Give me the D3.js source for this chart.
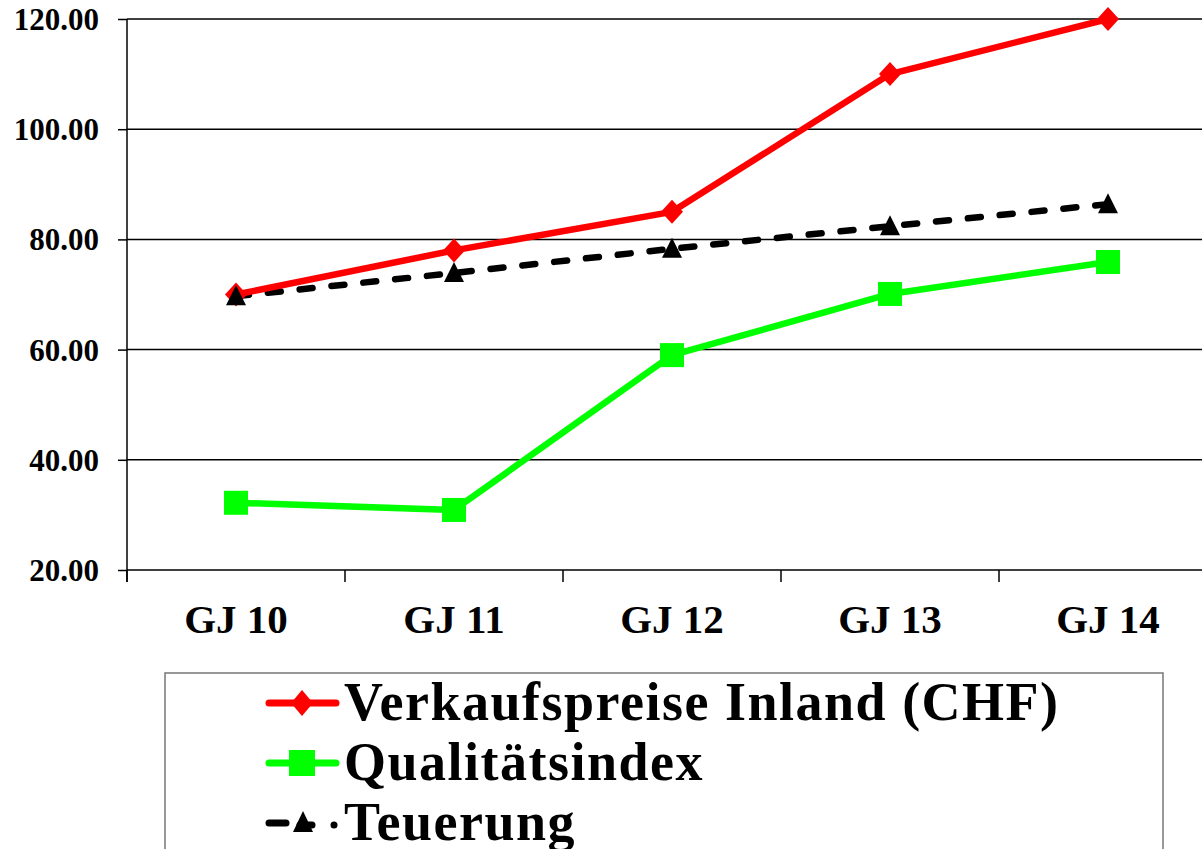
<!DOCTYPE html>
<html>
<head>
<meta charset="utf-8">
<script src="https://cdn.jsdelivr.net/npm/d3@7"></script>
<style>
  body { margin: 0; background: #fff; }
  svg text { font-family: "Liberation Serif", "Times New Roman", serif; font-weight: bold; fill: #000; }
</style>
</head>
<body>
<svg id="chart" width="1202" height="849"></svg>
<script>
// data
var categories = ["GJ 10", "GJ 11", "GJ 12", "GJ 13", "GJ 14"];
var verkaufspreise = [70, 78, 85, 110, 120];
var qualitaetsindex = [32.2, 30.9, 59, 70.1, 75.9];
var teuerung = [69.7, 73.9, 78.3, 82.4, 86.4];
var yTicks = [20, 40, 60, 80, 100, 120];
var seriesNames = ["Verkaufspreise Inland (CHF)", "Qualitätsindex", "Teuerung"];

function drawChart() {
  var svg = d3.select("#chart");

  var plotLeft = 127, plotTop = 19, plotBottom = 570, band = 218;

  var x = d3.scaleBand()
    .domain(categories)
    .range([plotLeft, plotLeft + band * categories.length])
    .padding(0);

  var y = d3.scaleLinear()
    .domain([20, 120])
    .range([plotBottom, plotTop]);

  function cx(d, i) { return x(categories[i]) + x.bandwidth() / 2; }

  // gridlines
  svg.append("g")
    .selectAll("line")
    .data(yTicks.slice(1))
    .enter()
    .append("line")
    .attr("x1", plotLeft)
    .attr("x2", 1202)
    .attr("y1", function(d) { return y(d); })
    .attr("y2", function(d) { return y(d); })
    .attr("stroke", "#000")
    .attr("stroke-width", 1.5);

  // y axis
  var yAxis = d3.axisLeft(y)
    .tickValues(yTicks)
    .tickSize(9)
    .tickPadding(19)
    .tickFormat(d3.format(".2f"));

  var gy = svg.append("g")
    .attr("transform", "translate(" + plotLeft + ",0)")
    .call(yAxis);
  gy.select(".domain").remove();
  gy.selectAll(".tick line").attr("stroke", "#000").attr("stroke-width", 1.5);
  gy.selectAll("text").style("font-size", "31px").attr("dy", "0.34em");

  svg.append("line")
    .attr("x1", plotLeft).attr("x2", plotLeft)
    .attr("y1", plotTop).attr("y2", plotBottom + 12)
    .attr("stroke", "#000").attr("stroke-width", 1.5);

  // x axis
  svg.append("line")
    .attr("x1", plotLeft).attr("x2", 1202)
    .attr("y1", plotBottom).attr("y2", plotBottom)
    .attr("stroke", "#000").attr("stroke-width", 1.5);

  svg.append("g")
    .selectAll("line")
    .data(categories)
    .enter()
    .append("line")
    .attr("x1", function(d) { return x(d); })
    .attr("x2", function(d) { return x(d); })
    .attr("y1", plotBottom)
    .attr("y2", plotBottom + 12)
    .attr("stroke", "#000")
    .attr("stroke-width", 1.5);

  svg.append("g")
    .selectAll("text")
    .data(categories)
    .enter()
    .append("text")
    .attr("x", function(d) { return x(d) + x.bandwidth() / 2; })
    .attr("y", 633)
    .attr("text-anchor", "middle")
    .style("font-size", "41px")
    .text(function(d) { return d; });

  // lines
  var line = d3.line()
    .x(cx)
    .y(function(d) { return y(d); });

  svg.append("path")
    .datum(teuerung)
    .attr("d", line)
    .attr("fill", "none")
    .attr("stroke", "#000")
    .attr("stroke-width", 6.5)
    .attr("stroke-linecap", "round")
    .attr("stroke-dasharray", "13,19");

  svg.append("path")
    .datum(qualitaetsindex)
    .attr("d", line)
    .attr("fill", "none")
    .attr("stroke", "#00ff00")
    .attr("stroke-width", 6.5)
    .attr("stroke-linejoin", "round");

  svg.append("path")
    .datum(verkaufspreise)
    .attr("d", line)
    .attr("fill", "none")
    .attr("stroke", "#ff0000")
    .attr("stroke-width", 6.5)
    .attr("stroke-linejoin", "round");

  // markers
  var diamond = "M0,-12L11,0L0,12L-11,0Z";
  var triangle = "M0,-11L10,9L-10,9Z";

  svg.append("g")
    .selectAll("rect")
    .data(qualitaetsindex)
    .enter()
    .append("rect")
    .attr("x", function(d, i) { return cx(d, i) - 12; })
    .attr("y", function(d) { return y(d) - 12; })
    .attr("width", 24)
    .attr("height", 24)
    .attr("fill", "#00ff00");

  svg.append("g")
    .selectAll("path")
    .data(verkaufspreise)
    .enter()
    .append("path")
    .attr("d", diamond)
    .attr("transform", function(d, i) { return "translate(" + cx(d, i) + "," + y(d) + ")"; })
    .attr("fill", "#ff0000");

  svg.append("g")
    .selectAll("path")
    .data(teuerung)
    .enter()
    .append("path")
    .attr("d", triangle)
    .attr("transform", function(d, i) { return "translate(" + cx(d, i) + "," + y(d) + ")"; })
    .attr("fill", "#000");

  // legend
  var legend = svg.append("g");
  legend.append("rect")
    .attr("x", 165).attr("y", 673)
    .attr("width", 998).attr("height", 200)
    .attr("fill", "#fff")
    .attr("stroke", "#777")
    .attr("stroke-width", 1.5);

  var rowY = [703, 763, 823];

  // row 1
  legend.append("line")
    .attr("x1", 269).attr("x2", 336).attr("y1", rowY[0]).attr("y2", rowY[0])
    .attr("stroke", "#ff0000").attr("stroke-width", 7).attr("stroke-linecap", "round");
  legend.append("path")
    .attr("d", "M0,-13L11,0L0,13L-11,0Z")
    .attr("transform", "translate(302," + rowY[0] + ")")
    .attr("fill", "#ff0000");

  // row 2
  legend.append("line")
    .attr("x1", 269).attr("x2", 336).attr("y1", rowY[1]).attr("y2", rowY[1])
    .attr("stroke", "#00ff00").attr("stroke-width", 7).attr("stroke-linecap", "round");
  legend.append("rect")
    .attr("x", 289).attr("y", rowY[1] - 13)
    .attr("width", 26).attr("height", 26)
    .attr("fill", "#00ff00");

  // row 3
  legend.append("line")
    .attr("x1", 269).attr("x2", 286).attr("y1", rowY[2]).attr("y2", rowY[2])
    .attr("stroke", "#000").attr("stroke-width", 7).attr("stroke-linecap", "round");
  legend.append("line")
    .attr("x1", 300).attr("x2", 312).attr("y1", rowY[2] + 2).attr("y2", rowY[2] + 2)
    .attr("stroke", "#000").attr("stroke-width", 7).attr("stroke-linecap", "round");
  legend.append("path")
    .attr("d", "M0,-12L10,9L-10,9Z")
    .attr("transform", "translate(303," + rowY[2] + ")")
    .attr("fill", "#000");
  legend.append("circle")
    .attr("cx", 334).attr("cy", rowY[2] + 2).attr("r", 3.5)
    .attr("fill", "#000");

  legend.selectAll("text.lbl")
    .data(seriesNames)
    .enter()
    .append("text")
    .attr("class", "lbl")
    .attr("x", 344)
    .attr("y", function(d, i) { return rowY[i] + 17; })
    .style("font-size", "54px")
    .style("letter-spacing", "1.5px")
    .text(function(d) { return d; });
}

drawChart();
</script>
</body>
</html>
